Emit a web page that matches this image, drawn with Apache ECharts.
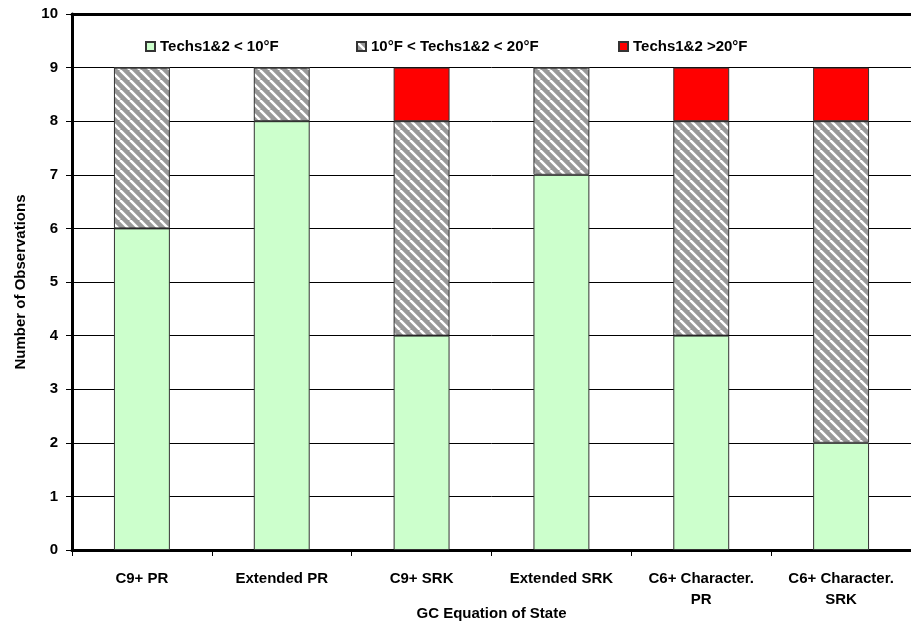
<!DOCTYPE html>
<html><head><meta charset="utf-8">
<script src="https://cdn.jsdelivr.net/npm/echarts@6/dist/echarts.min.js"></script>
<style>html,body{margin:0;padding:0;background:#fff}#c{width:911px;height:624px}</style>
</head><body><div id="c"></div>
<script>
const categories = ['C9+ PR', 'Extended PR', 'C9+ SRK', 'Extended SRK', 'C6+ Character.\nPR', 'C6+ Character.\nSRK'];
const seriesNames = ['Techs1&2 < 10°F', '10°F < Techs1&2 < 20°F', 'Techs1&2 >20°F'];
const lowValues = [6, 8, 4, 7, 4, 2];
const midValues = [3, 1, 4, 2, 4, 6];
const highValues = [0, 0, 1, 0, 1, 1];
const yTicks = [0, 1, 2, 3, 4, 5, 6, 7, 8, 9, 10];

function hatch() {
  const c = document.createElement('canvas');
  c.width = 10; c.height = 10;
  const g = c.getContext('2d');
  g.fillStyle = '#999999';
  g.fillRect(0, 0, 10, 10);
  g.strokeStyle = '#ffffff';
  g.lineWidth = 2.5;
  for (const k of [-10, 0, 10]) {
    g.beginPath(); g.moveTo(k, 0); g.lineTo(k + 10, 10); g.stroke();
  }
  return c;
}
const hatchPattern = { image: hatch(), repeat: 'repeat' };

const font = { fontFamily: 'Liberation Sans, Arial, sans-serif', fontWeight: 'bold', fontSize: 15, color: '#000' };
const chart = echarts.init(document.getElementById('c'));
const legendBase = { top: 34, itemWidth: 9, itemHeight: 9, icon: 'rect', itemGap: 5,
  textStyle: Object.assign({}, font, { fontSize: 15 }) };
chart.setOption({
  animation: false,
  backgroundColor: '#fff',
  grid: { left: 72, right: 0, top: 14, bottom: 74, containLabel: false, outerBoundsMode: 'none' },
  legend: [
    Object.assign({}, legendBase, { left: 140, data: [seriesNames[0]] }),
    Object.assign({}, legendBase, { left: 351, data: [seriesNames[1]] }),
    Object.assign({}, legendBase, { left: 613, data: [seriesNames[2]] })
  ],
  xAxis: [{
    type: 'category', data: categories,
    name: 'GC Equation of State', nameLocation: 'middle', nameGap: 56, nameMoveOverlap: false,
    nameTextStyle: font,
    axisLine: { lineStyle: { color: '#000', width: 3 } },
    axisTick: { show: true, length: 6, lineStyle: { color: '#000', width: 1 } },
    axisLabel: Object.assign({}, font, { margin: 18, lineHeight: 21 })
  }, {
    type: 'category', data: categories, position: 'top',
    axisLine: { lineStyle: { color: '#000', width: 3 } },
    axisTick: { show: false }, axisLabel: { show: false }
  }],
  yAxis: {
    type: 'value', min: yTicks[0], max: yTicks[yTicks.length - 1], interval: 1,
    name: 'Number of Observations', nameLocation: 'middle', nameGap: 44, nameMoveOverlap: false,
    nameTextStyle: font,
    axisLine: { show: true, lineStyle: { color: '#000', width: 3 } },
    axisTick: { show: true, length: 6, lineStyle: { color: '#000' } },
    axisLabel: Object.assign({}, font, { margin: 14 }),
    splitLine: { show: true, lineStyle: { color: '#000', width: 1 } }
  },
  series: [
    { name: seriesNames[0], type: 'bar', stack: 's', data: lowValues, barWidth: '40%',
      itemStyle: { color: '#CCFFCC', borderColor: '#333', borderWidth: 1 } },
    { name: seriesNames[1], type: 'bar', stack: 's', data: midValues, barWidth: '40%',
      itemStyle: { color: hatchPattern, borderColor: '#333', borderWidth: 1 } },
    { name: seriesNames[2], type: 'bar', stack: 's', data: highValues, barWidth: '40%',
      itemStyle: { color: '#FF0000', borderColor: '#333', borderWidth: 1 } }
  ]
});
</script></body></html>
